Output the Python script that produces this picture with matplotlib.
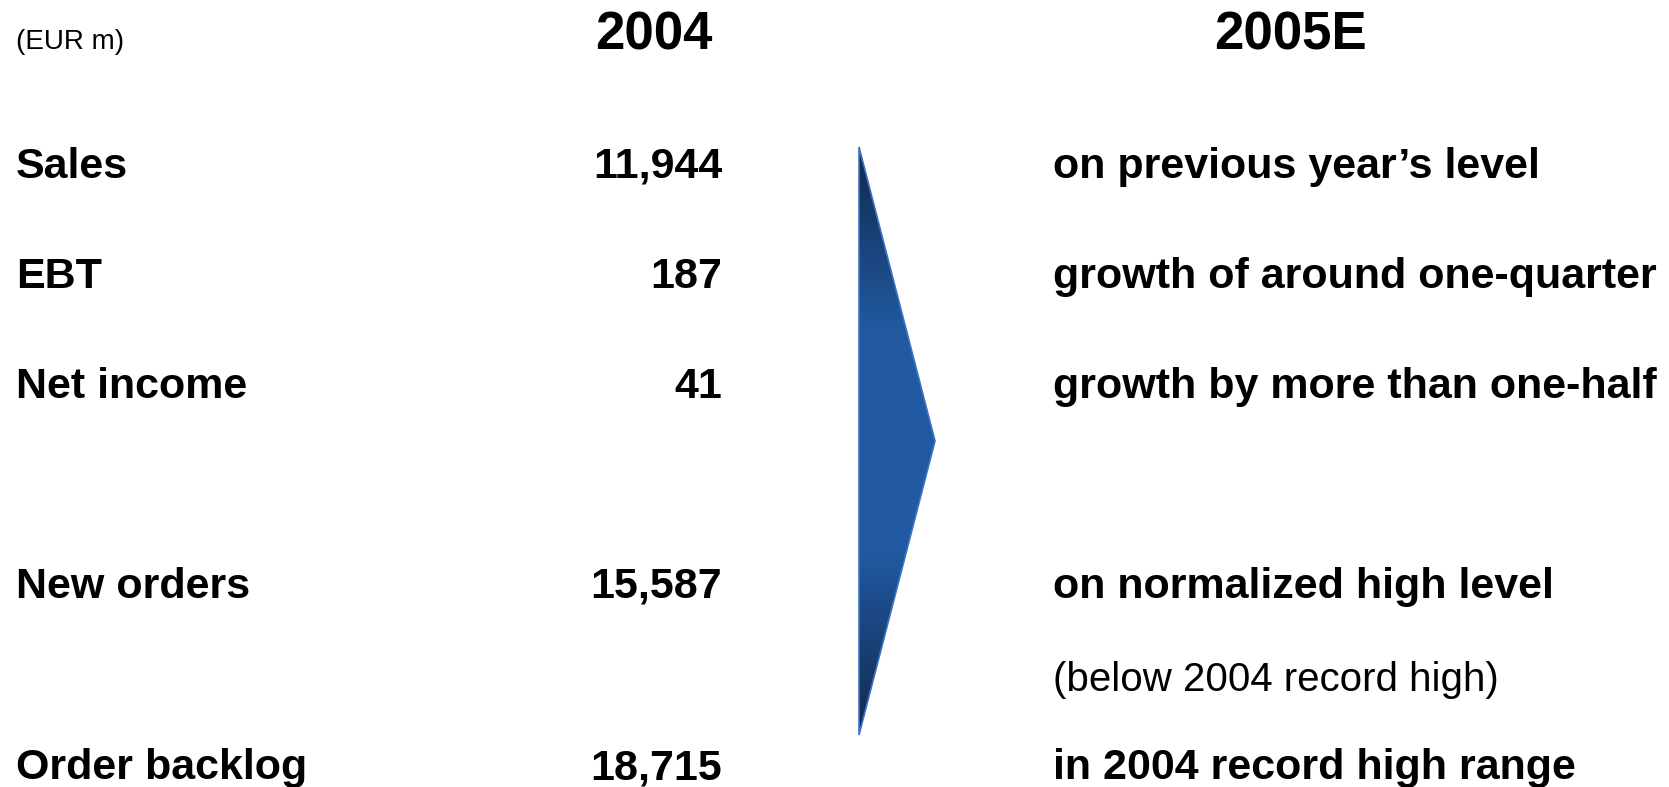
import matplotlib.pyplot as plt
import numpy as np
from matplotlib.patches import Polygon

# data
labels = ['Sales', 'EBT', 'Net income', 'New orders', 'Order backlog']
values_2004 = [11944, 187, 41, 15587, 18715]
outlook_2005 = ['on previous year\u2019s level',
                'growth of around one-quarter',
                'growth by more than one-half',
                'on normalized high level',
                'in 2004 record high range']
note_text = '(below 2004 record high)'
headers = ['2004', '2005E']
unit = '(EUR m)'

# layout (pixel coords, y down)
W, H = 1669, 787
row_y = [167, 277, 387, 587, 768]
note_y = 680
x_label, x_value, x_outlook = 16, 722, 1053

fig = plt.figure(figsize=(W / 100, H / 100), dpi=100)
ax = fig.add_axes([0, 0, 1, 1])
ax.set_xlim(0, W)
ax.set_ylim(H, 0)
ax.axis('off')

bold = dict(family=['Liberation Sans', 'DejaVu Sans'], fontweight='bold', fontsize=31)
light = dict(family=['Liberation Sans', 'DejaVu Sans'], fontweight='normal')

ax.text(x_label, 42, unit, va='center', ha='left', fontsize=20, **light)
ax.text(654, 36, headers[0], va='center', ha='center',
        family=['Liberation Sans'], fontweight='bold', fontsize=38)
ax.text(1290, 36, headers[1], va='center', ha='center',
        family=['Liberation Sans'], fontweight='bold', fontsize=38)

for y, lab, v, o in zip(row_y, labels, values_2004, outlook_2005):
    ax.text(x_label, y, lab, va='center', ha='left', **bold)
    ax.text(x_value, y, f'{v:,}', va='center', ha='right', **bold)
    ax.text(x_outlook, y, o, va='center', ha='left', **bold)

ax.text(x_outlook, note_y, note_text, va='center', ha='left', fontsize=29, **light)

# gradient arrow
top, bot, left, tip_x = 147, 735, 859, 935
tip_y = (top + bot) / 2
poly = Polygon([[left, top], [tip_x, tip_y], [left, bot]], closed=True,
               facecolor='none', edgecolor='#3d72c4', lw=1.2, zorder=3)
ax.add_patch(poly)
t = np.linspace(0, 1, 256)
k = 1 - np.abs(t - 0.5) * 2
k = np.clip(k * 1.6, 0, 1)
dark = np.array([0x12, 0x28, 0x4d]) / 255
mid = np.array([0x21, 0x5a, 0xa2]) / 255
grad = dark[None, :] * (1 - k[:, None]) + mid[None, :] * k[:, None]
img = np.repeat(grad[:, None, :], 2, axis=1)
im = ax.imshow(img, extent=[left, tip_x, bot, top], aspect='auto', zorder=2,
               interpolation='bilinear')
im.set_clip_path(poly)

fig.savefig('out.png', dpi=100)
